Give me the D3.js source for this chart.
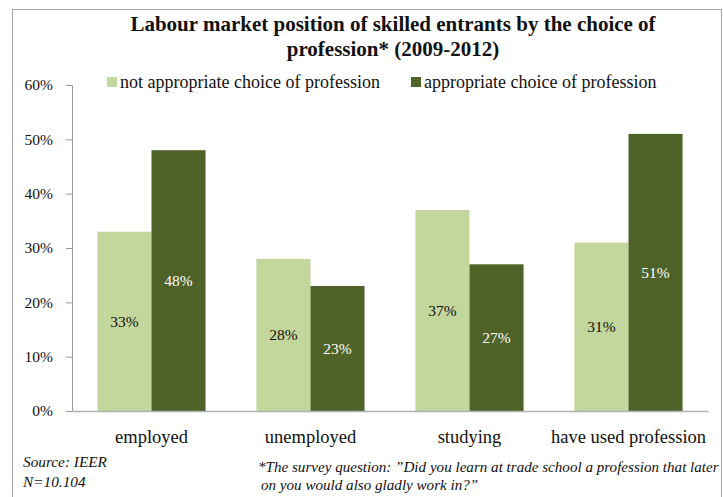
<!DOCTYPE html>
<html>
<head>
<meta charset="utf-8">
<script src="https://cdn.jsdelivr.net/npm/d3@7/dist/d3.min.js"></script>
<style>
  html, body { margin: 0; padding: 0; background: #fff; }
  svg { display: block; }
  svg text { font-family: "Liberation Serif", "DejaVu Serif", serif; }
</style>
</head>
<body>
<svg id="chart" width="723" height="497"></svg>
<script>
// Categories, series and tick values
const categories = ["employed", "unemployed", "studying", "have used profession"];
const seriesNames = ["not appropriate choice of profession", "appropriate choice of profession"];
const notAppropriate = [33, 28, 37, 31];
const appropriate = [48, 23, 27, 51];
const yTicks = [0, 10, 20, 30, 40, 50, 60];
const colors = ["#c3d69b", "#4f6228"];
const labelColors = ["#111", "#fff"];

const svg = d3.select("#chart");

// Outer frame
svg.append("rect")
  .attr("x", 12.5).attr("y", 9.5)
  .attr("width", 709).attr("height", 500)
  .attr("fill", "none").attr("stroke", "#a6a6a6").attr("stroke-width", 1);

// Title
const title = svg.append("text")
  .attr("text-anchor", "middle")
  .attr("font-weight", "bold")
  .attr("font-size", 21)
  .attr("fill", "#111");
title.append("tspan").attr("x", 393).attr("y", 31).text("Labour market position of skilled entrants by the choice of");
title.append("tspan").attr("x", 393).attr("y", 56).text("profession* (2009-2012)");

const plotLeft = 72, plotRight = 708, plotTop = 85, plotBottom = 411;

const x0 = d3.scaleBand()
  .domain(categories)
  .range([plotLeft, plotRight])
  .paddingInner(0.32)
  .paddingOuter(0.16);

const x1 = d3.scaleBand()
  .domain([0, 1])
  .range([0, x0.bandwidth()])
  .padding(0);

const y = d3.scaleLinear().domain([0, 60]).range([plotBottom, plotTop]);

// Y axis
const yAxis = svg.append("g")
  .attr("transform", `translate(${plotLeft},0)`)
  .call(d3.axisLeft(y).tickValues(yTicks).tickFormat(d => d + "%").tickSize(6).tickPadding(13));
yAxis.attr("font-family", null);
yAxis.select(".domain").attr("stroke", "#9a9a9a");
yAxis.selectAll(".tick line").attr("stroke", "#9a9a9a");
yAxis.selectAll(".tick text")
  .attr("font-size", 15.5).attr("fill", "#111");

// Bars
const rows = categories.map((c, i) => ({ cat: c, vals: [notAppropriate[i], appropriate[i]] }));
const groups = svg.append("g").selectAll("g")
  .data(rows).join("g")
  .attr("transform", d => `translate(${x0(d.cat)},0)`);

groups.selectAll("rect")
  .data(d => d.vals.map((v, s) => ({ v, s })))
  .join("rect")
  .attr("x", d => x1(d.s))
  .attr("y", d => y(d.v))
  .attr("width", x1.bandwidth())
  .attr("height", d => y(0) - y(d.v))
  .attr("fill", d => colors[d.s]);

groups.selectAll("text.val")
  .data(d => d.vals.map((v, s) => ({ v, s })))
  .join("text")
  .attr("class", "val")
  .attr("x", d => x1(d.s) + x1.bandwidth() / 2)
  .attr("y", d => (y(d.v) + y(0)) / 2)
  .attr("dy", "0.35em")
  .attr("text-anchor", "middle")
  .attr("font-size", 15.5)
  .attr("fill", d => labelColors[d.s])
  .text(d => d.v + "%");

// X axis baseline and category labels
const xAxis = svg.append("g")
  .attr("transform", `translate(0,${plotBottom})`)
  .call(d3.axisBottom(x0).tickSize(0).tickPadding(19));
xAxis.attr("font-family", null);
xAxis.select(".domain").attr("stroke", "#b0b0b0").attr("stroke-width", 1.5);
xAxis.selectAll(".tick text")
  .attr("font-size", 18.5).attr("fill", "#111");

// Legend
const legendItems = [{ x: 107, name: seriesNames[0], c: colors[0] }, { x: 411, name: seriesNames[1], c: colors[1] }];
const legend = svg.append("g");
legendItems.forEach(it => {
  legend.append("rect").attr("x", it.x).attr("y", 77).attr("width", 10).attr("height", 10).attr("fill", it.c);
  legend.append("text").attr("x", it.x + 13).attr("y", 88)
    .attr("font-size", 18).attr("fill", "#111").text(it.name);
});

// Notes
const notes = svg.append("g").attr("font-style", "italic").attr("fill", "#111");
notes.append("text").attr("x", 23).attr("y", 467).attr("font-size", 15.3).text("Source: IEER");
notes.append("text").attr("x", 23).attr("y", 487).attr("font-size", 15.3).text("N=10.104");
notes.append("text").attr("x", 258).attr("y", 472).attr("font-size", 15.1)
  .text("*The survey question: \u201dDid you learn at trade school a profession that later");
notes.append("text").attr("x", 261).attr("y", 490).attr("font-size", 15.1)
  .text("on you would also gladly work in?\u201d");
</script>
</body>
</html>
